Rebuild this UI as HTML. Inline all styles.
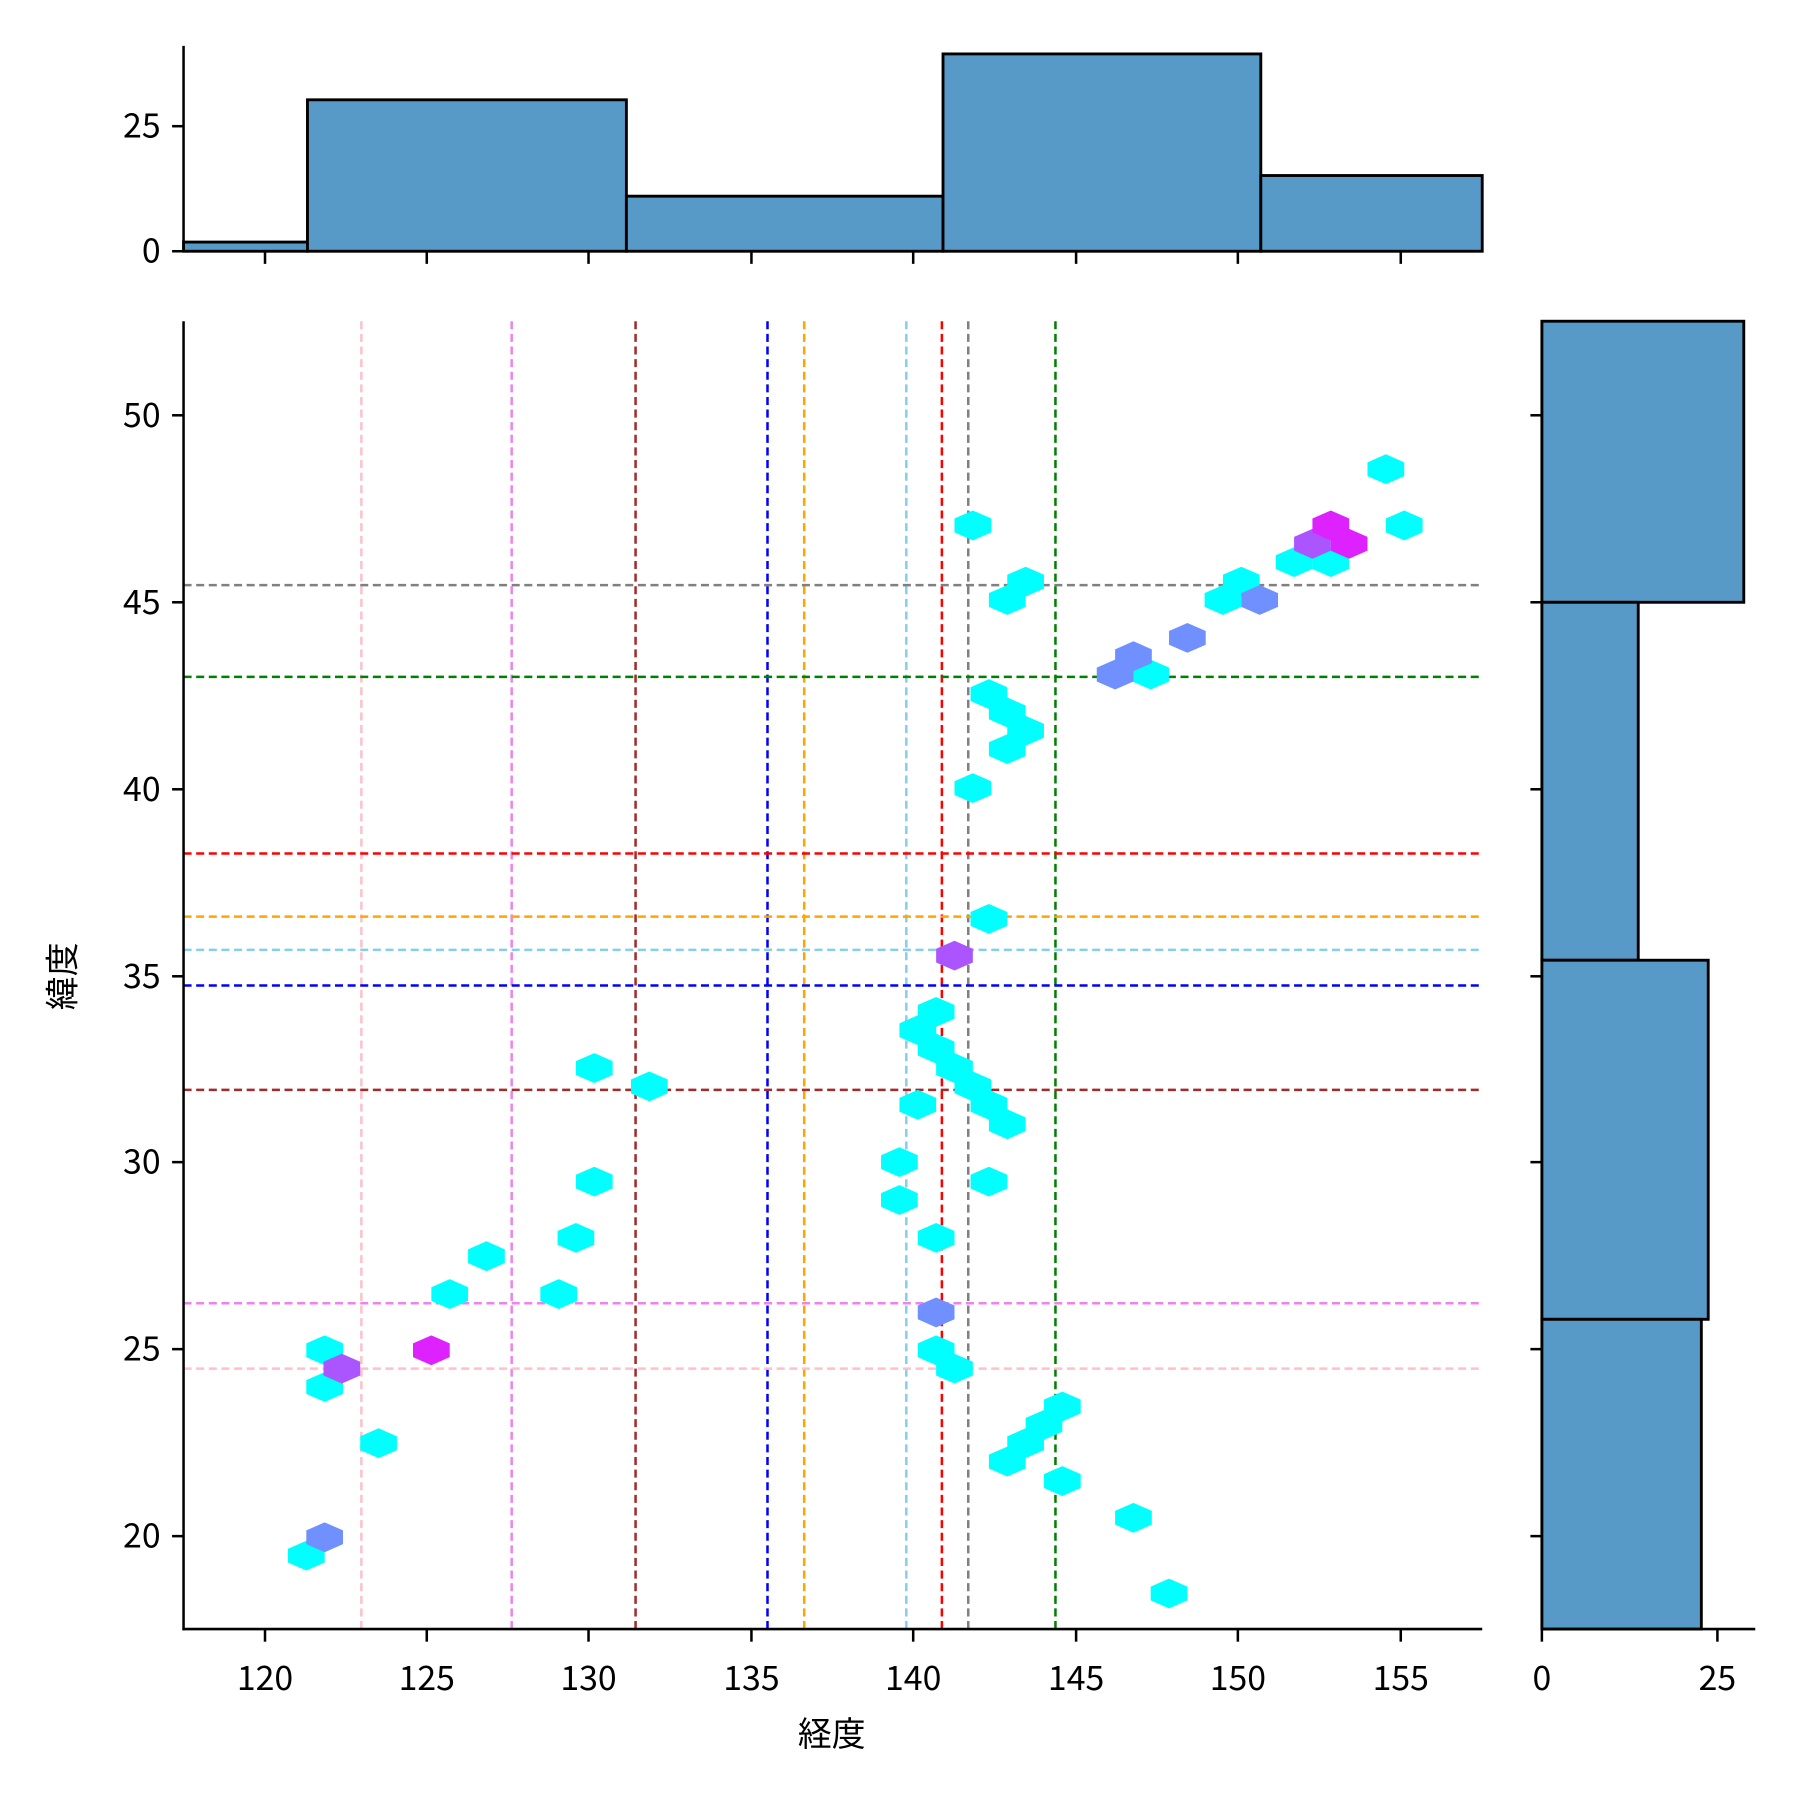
<!DOCTYPE html>
<html><head><meta charset="utf-8"><style>html,body{margin:0;padding:0;background:#fff}svg{display:block}</style></head>
<body>
<svg width="1800" height="1800" viewBox="0 0 1569 1569" xmlns="http://www.w3.org/2000/svg" font-family="Noto Sans CJK JP, Liberation Sans, sans-serif" font-size="29.5">
<defs><path id="h" d="M0,-13 L16,-6 L16,6 L0,13 L-16,6 L-16,-6 Z"/></defs>
<g fill="#579ac7" stroke="#000" stroke-width="2.5">
<rect x="160" y="211" width="108" height="8"/>
<rect x="268" y="87" width="278" height="132"/>
<rect x="546" y="171" width="276" height="48"/>
<rect x="822" y="47" width="277" height="172"/>
<rect x="1099" y="153" width="193" height="66"/>
</g>
<g stroke="#000" stroke-width="2.2">
<line x1="160" y1="40" x2="160" y2="220"/><line x1="159" y1="219" x2="1292" y2="219"/>
<line x1="150" y1="110" x2="160" y2="110"/><line x1="150" y1="219" x2="160" y2="219"/>
<line x1="231" y1="219" x2="231" y2="230"/><line x1="372" y1="219" x2="372" y2="230"/><line x1="513" y1="219" x2="513" y2="230"/><line x1="655" y1="219" x2="655" y2="230"/><line x1="796" y1="219" x2="796" y2="230"/><line x1="938" y1="219" x2="938" y2="230"/><line x1="1079" y1="219" x2="1079" y2="230"/><line x1="1221" y1="219" x2="1221" y2="230"/>
</g>
<g text-anchor="end"><text x="140" y="120">25</text><text x="140" y="229">0</text></g>
<g fill="#579ac7" stroke="#000" stroke-width="2.5">
<rect x="1344" y="280" width="176" height="245"/>
<rect x="1344" y="525" width="84" height="312"/>
<rect x="1344" y="837" width="145" height="313"/>
<rect x="1344" y="1150" width="139" height="270"/>
</g>
<g stroke="#000" stroke-width="2.2">
<line x1="1344" y1="280" x2="1344" y2="1421"/><line x1="1343" y1="1420" x2="1530" y2="1420"/>
<line x1="1344" y1="1420" x2="1344" y2="1431"/><line x1="1497" y1="1420" x2="1497" y2="1431"/>
<line x1="1334" y1="362" x2="1344" y2="362"/><line x1="1334" y1="525" x2="1344" y2="525"/><line x1="1334" y1="688" x2="1344" y2="688"/><line x1="1334" y1="851" x2="1344" y2="851"/><line x1="1334" y1="1013" x2="1344" y2="1013"/><line x1="1334" y1="1176" x2="1344" y2="1176"/><line x1="1334" y1="1339" x2="1344" y2="1339"/>
</g>
<g text-anchor="middle"><text x="1344" y="1473">0</text><text x="1497" y="1473">25</text></g>
<g stroke-width="2.2" stroke-dasharray="7,4" fill="none">
<line x1="315" y1="280" x2="315" y2="1420" stroke="pink"/>
<line x1="446" y1="280" x2="446" y2="1420" stroke="violet"/>
<line x1="554" y1="280" x2="554" y2="1420" stroke="brown"/>
<line x1="669" y1="280" x2="669" y2="1420" stroke="blue"/>
<line x1="701" y1="280" x2="701" y2="1420" stroke="orange"/>
<line x1="790" y1="280" x2="790" y2="1420" stroke="skyblue"/>
<line x1="821" y1="280" x2="821" y2="1420" stroke="red"/>
<line x1="844" y1="280" x2="844" y2="1420" stroke="gray"/>
<line x1="920" y1="280" x2="920" y2="1420" stroke="green"/>
<line x1="160" y1="510" x2="1290" y2="510" stroke="gray"/>
<line x1="160" y1="590" x2="1290" y2="590" stroke="green"/>
<line x1="160" y1="744" x2="1290" y2="744" stroke="red"/>
<line x1="160" y1="799" x2="1290" y2="799" stroke="orange"/>
<line x1="160" y1="828" x2="1290" y2="828" stroke="skyblue"/>
<line x1="160" y1="859" x2="1290" y2="859" stroke="blue"/>
<line x1="160" y1="950" x2="1290" y2="950" stroke="brown"/>
<line x1="160" y1="1136" x2="1290" y2="1136" stroke="violet"/>
<line x1="160" y1="1193" x2="1290" y2="1193" stroke="pink"/>
</g>
<g fill="#00ffff">
<use href="#h" x="848" y="458"/><use href="#h" x="1208" y="409"/><use href="#h" x="1224" y="458"/>
<use href="#h" x="1128" y="490"/><use href="#h" x="1160" y="490"/><use href="#h" x="894" y="507"/><use href="#h" x="878" y="523"/>
<use href="#h" x="1082" y="507"/><use href="#h" x="1066" y="523"/><use href="#h" x="1003" y="588"/>
<use href="#h" x="862" y="605"/><use href="#h" x="878" y="621"/><use href="#h" x="894" y="637"/><use href="#h" x="878" y="653"/>
<use href="#h" x="848" y="687"/><use href="#h" x="862" y="801"/><use href="#h" x="816" y="882"/><use href="#h" x="800" y="898"/>
<use href="#h" x="816" y="914"/><use href="#h" x="832" y="931"/><use href="#h" x="848" y="947"/><use href="#h" x="862" y="963"/>
<use href="#h" x="878" y="980"/><use href="#h" x="800" y="963"/><use href="#h" x="518" y="931"/><use href="#h" x="566" y="947"/>
<use href="#h" x="784" y="1013"/><use href="#h" x="784" y="1046"/><use href="#h" x="862" y="1030"/><use href="#h" x="518" y="1030"/>
<use href="#h" x="502" y="1079"/><use href="#h" x="816" y="1079"/><use href="#h" x="424" y="1095"/><use href="#h" x="392" y="1128"/>
<use href="#h" x="487" y="1128"/><use href="#h" x="283" y="1177"/><use href="#h" x="283" y="1209"/><use href="#h" x="816" y="1177"/>
<use href="#h" x="832" y="1193"/><use href="#h" x="926" y="1226"/><use href="#h" x="910" y="1242"/><use href="#h" x="894" y="1258"/>
<use href="#h" x="878" y="1274"/><use href="#h" x="926" y="1291"/><use href="#h" x="330" y="1258"/><use href="#h" x="988" y="1323"/>
<use href="#h" x="267" y="1356"/><use href="#h" x="1019" y="1389"/>
</g>
<g fill="#7090ff">
<use href="#h" x="1098" y="523"/><use href="#h" x="1035" y="556"/><use href="#h" x="988" y="572"/><use href="#h" x="972" y="588"/>
<use href="#h" x="816" y="1144"/><use href="#h" x="283" y="1340"/>
</g>
<g fill="#aa55ff"><use href="#h" x="1144" y="474"/><use href="#h" x="832" y="833"/><use href="#h" x="298" y="1193"/></g>
<g fill="#dd22ff"><use href="#h" x="1160" y="458"/><use href="#h" x="1176" y="474"/><use href="#h" x="376" y="1177"/></g>
<g stroke="#000" stroke-width="2.2">
<line x1="160" y1="280" x2="160" y2="1421"/><line x1="159" y1="1420" x2="1292" y2="1420"/>
<line x1="231" y1="1420" x2="231" y2="1431"/><line x1="372" y1="1420" x2="372" y2="1431"/><line x1="513" y1="1420" x2="513" y2="1431"/><line x1="655" y1="1420" x2="655" y2="1431"/><line x1="796" y1="1420" x2="796" y2="1431"/><line x1="938" y1="1420" x2="938" y2="1431"/><line x1="1079" y1="1420" x2="1079" y2="1431"/><line x1="1221" y1="1420" x2="1221" y2="1431"/>
<line x1="150" y1="362" x2="160" y2="362"/><line x1="150" y1="525" x2="160" y2="525"/><line x1="150" y1="688" x2="160" y2="688"/><line x1="150" y1="851" x2="160" y2="851"/><line x1="150" y1="1013" x2="160" y2="1013"/><line x1="150" y1="1176" x2="160" y2="1176"/><line x1="150" y1="1339" x2="160" y2="1339"/>
</g>
<g text-anchor="middle">
<text x="231" y="1473">120</text><text x="372" y="1473">125</text><text x="513" y="1473">130</text><text x="655" y="1473">135</text><text x="796" y="1473">140</text><text x="938" y="1473">145</text><text x="1079" y="1473">150</text><text x="1221" y="1473">155</text>
<text x="725" y="1522">経度</text>
<text transform="translate(65,851) rotate(-90)">緯度</text>
</g>
<g text-anchor="end">
<text x="140" y="372">50</text><text x="140" y="535">45</text><text x="140" y="698">40</text><text x="140" y="861">35</text><text x="140" y="1023">30</text><text x="140" y="1186">25</text><text x="140" y="1349">20</text>
</g>
</svg>
</body></html>
